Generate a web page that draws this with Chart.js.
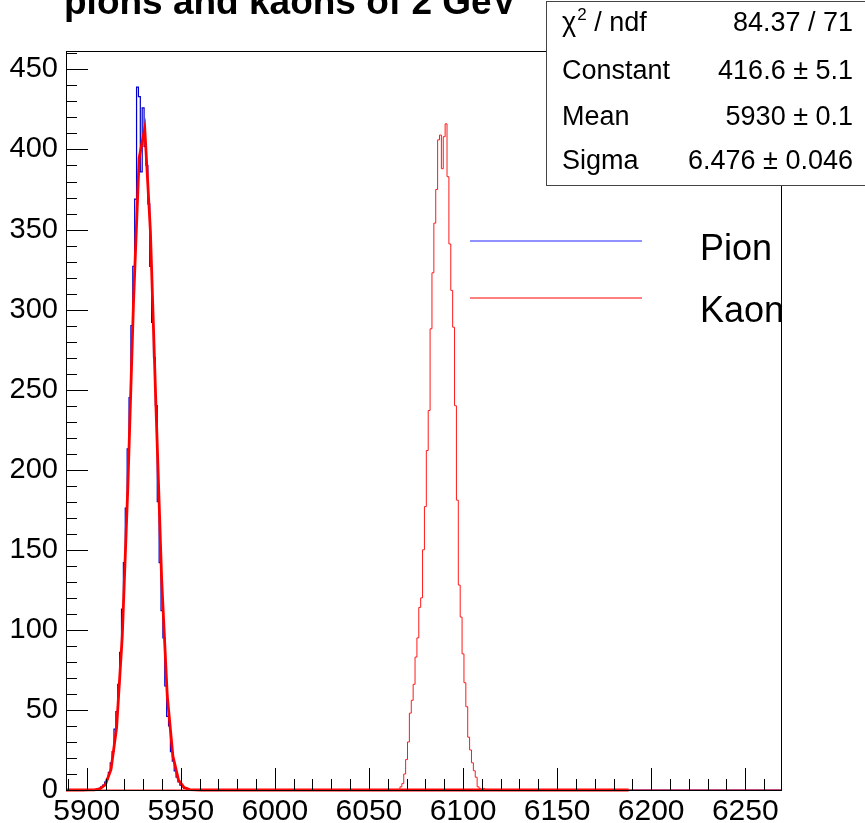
<!DOCTYPE html>
<html>
<head>
<meta charset="utf-8">
<script src="https://cdn.jsdelivr.net/npm/chart.js@4.4.1/dist/chart.umd.min.js"></script>
<style>
  html, body { margin: 0; padding: 0; background: #fff; }
  #wrap { width: 865px; height: 823px; }
</style>
</head>
<body>
<div id="wrap"><canvas id="c" width="865" height="823"></canvas></div>
<script>
// axis ranges
const xMin = 5889, xMax = 6269;
const yMax = 461.5;
const binWidth = 1;

const xTicks = [5900, 5950, 6000, 6050, 6100, 6150, 6200, 6250];
const yTicks = [0, 50, 100, 150, 200, 250, 300, 350, 400, 450];

// pion histogram, bins from pionLowEdge
const pionLowEdge = 5906.5;
const pionCounts = [
  0, 1, 2, 3, 5, 7, 11, 17, 24, 38,
  49, 66, 86, 113, 142, 176, 213, 245, 290, 327,
  369, 439, 433, 386, 426, 402, 390, 366, 327, 292,
  270, 240, 180, 142, 112, 95, 65, 46, 40, 24,
  18, 12, 8, 5, 3, 2, 1, 1, 0
];

// kaon histogram, bins from kaonLowEdge
const kaonLowEdge = 6066.5;
const kaonCounts = [
  0, 2, 4, 10, 19, 30, 48, 56, 66, 83,
  95, 114, 120, 150, 177, 212, 237, 288, 323, 354,
  375, 406, 409, 388, 408, 416, 383, 341, 312, 289,
  240, 181, 128, 108, 85, 67, 52, 33, 25, 17,
  12, 8, 2, 1, 0, 1
];

// gaus fit of the pion peak
const fitConstant = 416.6, fitConstantErr = 5.1;
const fitMean = 5930, fitMeanErr = 0.1;
const fitSigma = 6.476, fitSigmaErr = 0.046;
const fitChi2 = 84.37, fitNdf = 71;
const fitEnd = 6188;
const fitNpx = 100;

function histPoints(lowEdge, counts) {
  const pts = [{ x: xMin, y: 0 }];
  counts.forEach((c, i) => pts.push({ x: lowEdge + i * binWidth, y: c }));
  pts.push({ x: lowEdge + counts.length * binWidth, y: 0 });
  pts.push({ x: xMax, y: 0 });
  return pts;
}

function gaus(x) {
  const t = (x - fitMean) / fitSigma;
  return fitConstant * Math.exp(-0.5 * t * t);
}

const fitPoints = [];
for (let i = 0; i <= fitNpx; i++) {
  const x = xMin + i * (fitEnd - xMin) / fitNpx;
  fitPoints.push({ x, y: gaus(x) });
}

const FONT = '"Liberation Sans", Arial, Helvetica, sans-serif';

// frame, inward ticks, legend, stats box and title
const rootDecor = {
  id: 'rootDecor',
  afterDraw(chart) {
    const { ctx, chartArea: a, scales: { x, y } } = chart;
    ctx.save();

    ctx.strokeStyle = '#000';
    ctx.lineWidth = 1;
    ctx.strokeRect(a.left + 0.5, a.top + 0.5, a.right - a.left, a.bottom - a.top);

    ctx.beginPath();
    for (let v = 5890; v <= xMax; v += 10) {
      const px = Math.round(x.getPixelForValue(v)) + 0.5;
      const len = v % 50 === 0 ? 22 : 11;
      ctx.moveTo(px, a.bottom);
      ctx.lineTo(px, a.bottom - len);
    }
    for (let v = 0; v <= yMax; v += 10) {
      const py = Math.round(y.getPixelForValue(v)) + 0.5;
      const len = v % 50 === 0 ? 22 : 11;
      ctx.moveTo(a.left, py);
      ctx.lineTo(a.left + len, py);
    }
    ctx.stroke();

    // legend
    ctx.lineWidth = 1;
    ctx.strokeStyle = '#2222ff';
    ctx.beginPath(); ctx.moveTo(470, 241); ctx.lineTo(642, 241); ctx.stroke();
    ctx.strokeStyle = '#ff0000';
    ctx.beginPath(); ctx.moveTo(470, 298); ctx.lineTo(642, 298); ctx.stroke();
    ctx.fillStyle = '#000';
    ctx.font = '36px ' + FONT;
    ctx.textAlign = 'left';
    ctx.textBaseline = 'alphabetic';
    ctx.fillText('Pion', 700, 260);
    ctx.fillText('Kaon', 700, 322);

    // stats box
    ctx.fillStyle = '#fff';
    ctx.fillRect(546, 1, 330, 184);
    ctx.strokeStyle = '#444';
    ctx.strokeRect(546.5, 1.5, 330, 184);
    ctx.fillStyle = '#000';
    ctx.font = '27px ' + FONT;
    ctx.textAlign = 'left';
    ctx.fillText('\u03c7', 562, 31);
    const chiW = ctx.measureText('\u03c7').width;
    ctx.font = '17px ' + FONT;
    ctx.fillText('2', 562 + chiW + 1, 20);
    const twoW = ctx.measureText('2').width;
    ctx.font = '27px ' + FONT;
    ctx.fillText(' / ndf', 562 + chiW + twoW + 1, 31);
    ctx.fillText('Constant', 562, 79);
    ctx.fillText('Mean', 562, 125);
    ctx.fillText('Sigma', 562, 169);
    ctx.textAlign = 'right';
    ctx.fillText(fitChi2.toFixed(2) + ' / ' + fitNdf, 853, 31);
    ctx.fillText(fitConstant.toFixed(1) + ' \u00b1 ' + fitConstantErr.toFixed(1), 853, 79);
    ctx.fillText(fitMean + ' \u00b1 ' + fitMeanErr.toFixed(1), 853, 125);
    ctx.fillText(fitSigma.toFixed(3) + ' \u00b1 ' + fitSigmaErr.toFixed(3), 853, 169);

    // title
    ctx.textAlign = 'left';
    ctx.font = 'bold 37px ' + FONT;
    ctx.fillText('pions and kaons of 2 GeV', 64, 14);

    ctx.restore();
  }
};

new Chart(document.getElementById('c').getContext('2d'), {
  type: 'line',
  data: {
    datasets: [
      { label: 'Pion', data: histPoints(pionLowEdge, pionCounts), stepped: 'after',
        borderColor: '#0000cc', borderWidth: 1.2, pointRadius: 0, fill: false, clip: 3, order: 3 },
      { label: 'gaus', data: fitPoints, borderColor: '#ff0000', borderWidth: 2.8,
        pointRadius: 0, tension: 0, fill: false, clip: 3, order: 2 },
      { label: 'Kaon', data: histPoints(kaonLowEdge, kaonCounts), stepped: 'after',
        borderColor: '#ff1a1a', borderWidth: 1, pointRadius: 0, fill: false, clip: 3, order: 1 }
    ]
  },
  options: {
    responsive: false,
    animation: false,
    layout: { padding: { left: 0, top: 51, right: 84, bottom: 0 } },
    plugins: { legend: { display: false }, tooltip: { enabled: false } },
    scales: {
      x: {
        type: 'linear', min: xMin, max: xMax,
        grid: { display: false, drawTicks: false },
        border: { display: false },
        afterBuildTicks: s => { s.ticks = xTicks.map(v => ({ value: v })); },
        afterFit: s => { s.height = 33; },
        ticks: { font: { family: FONT, size: 30 }, color: '#000', padding: 4,
                 maxRotation: 0, autoSkip: false, callback: v => String(v) }
      },
      y: {
        type: 'linear', min: 0, max: yMax,
        grid: { display: false, drawTicks: false },
        border: { display: false },
        afterBuildTicks: s => { s.ticks = yTicks.map(v => ({ value: v })); },
        afterFit: s => { s.width = 66; },
        ticks: { font: { family: FONT, size: 29 }, color: '#000', padding: 8, autoSkip: false }
      }
    }
  },
  plugins: [rootDecor]
});
</script>
</body>
</html>
